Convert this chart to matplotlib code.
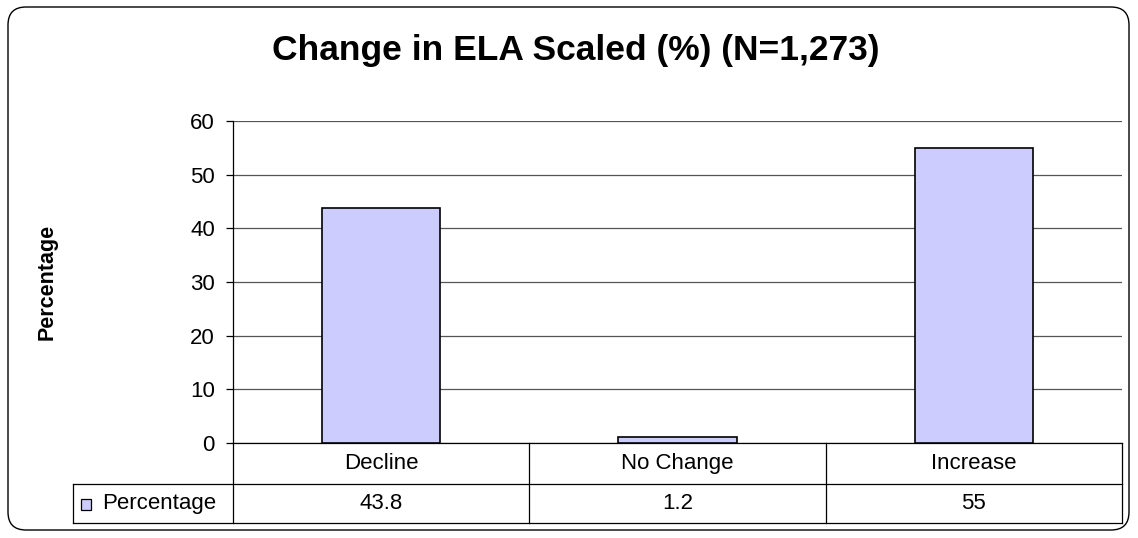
import matplotlib.pyplot as plt
from matplotlib.patches import FancyBboxPatch, Rectangle
from matplotlib.transforms import IdentityTransform, blended_transform_factory

plt.rcParams['font.family'] = ['Liberation Sans', 'DejaVu Sans']

# data
categories = ['Decline', 'No Change', 'Increase']
values = [43.8, 1.2, 55]
series_name = 'Percentage'
title = 'Change in ELA Scaled (%) (N=1,273)'
bar_color = '#CCCCFF'

fig = plt.figure(figsize=(11.38, 5.38), dpi=100)
ax = fig.add_axes([0.2047, 0.1766, 0.7812, 0.5985])

x = list(range(len(categories)))
ax.bar(x, values, width=0.4, color=bar_color, edgecolor='black', linewidth=1.2, zorder=3)
ax.set_xlim(-0.5, len(categories) - 0.5)
ax.set_ylim(0, 60)
ax.set_yticks(range(0, 61, 10))
ax.yaxis.grid(True, color='#555555', linewidth=0.9, zorder=0)
ax.tick_params(axis='y', direction='out', length=5, width=0.9, pad=8, labelsize=16)
ax.set_xticks([])
for s in ['top', 'right']:
    ax.spines[s].set_visible(False)
ax.spines['left'].set_linewidth(0.9)
ax.spines['bottom'].set_linewidth(0.9)
ax.set_ylabel('Percentage', fontsize=15.5, fontweight='bold')
ax.yaxis.set_label_coords(-0.197, 0.5)

fig.suptitle(title, x=0.506, y=0.907, va='center', fontsize=25.5, fontweight='bold')

# data table below the axes
tr = blended_transform_factory(ax.transData, ax.transAxes)
r1, r2 = -0.127, -0.248
tx0 = -0.18
lk = dict(color='black', linewidth=0.9, clip_on=False, transform=ax.transAxes)
ax.plot([0, 0], [0, r2], **lk)
ax.plot([1, 1], [0, r2], **lk)
ax.plot([tx0, 1], [r1, r1], **lk)
ax.plot([tx0, 1], [r2, r2], **lk)
ax.plot([tx0, tx0], [r1, r2], **lk)
for i in range(1, len(categories)):
    ax.plot([i - 0.5, i - 0.5], [0, r2], color='black', linewidth=0.9,
            clip_on=False, transform=tr)
for i, (c, v) in enumerate(zip(categories, values)):
    ax.text(i, (0 + r1) / 2, c, transform=tr, ha='center', va='center', fontsize=16)
    ax.text(i, (r1 + r2) / 2, f'{v:g}', transform=tr, ha='center', va='center', fontsize=16)

ax.add_patch(Rectangle((-0.171, (r1 + r2) / 2 - 0.021), 0.0112, 0.034, transform=ax.transAxes,
                       facecolor=bar_color, edgecolor='black', linewidth=0.9, clip_on=False))
ax.text(-0.147, (r1 + r2) / 2, series_name, transform=ax.transAxes, ha='left', va='center',
        fontsize=16)

# rounded chart border
fig.patches.append(FancyBboxPatch((8, 8), 1121, 523, boxstyle='round,pad=0,rounding_size=18',
                                  transform=IdentityTransform(), facecolor='none',
                                  edgecolor='black', linewidth=1.0))

fig.savefig('out.png', dpi=100)
